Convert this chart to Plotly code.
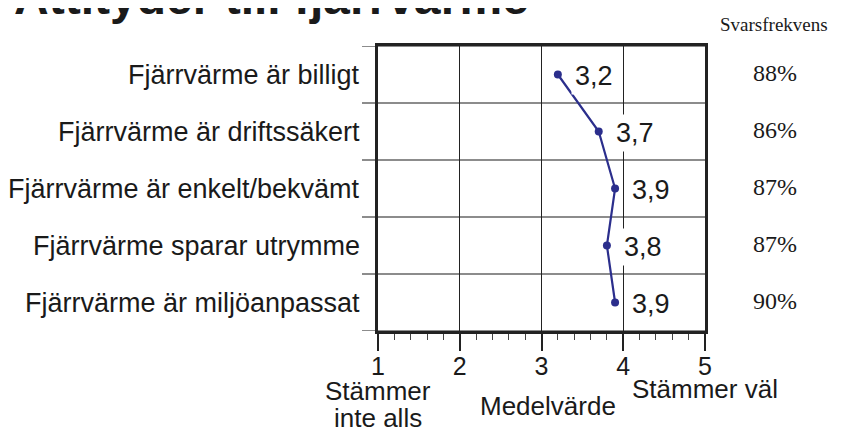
import plotly.graph_objects as go

categories = [
    "Fjärrvärme är billigt",
    "Fjärrvärme är driftssäkert",
    "Fjärrvärme är enkelt/bekvämt",
    "Fjärrvärme sparar utrymme",
    "Fjärrvärme är miljöanpassat",
]
mean_values = [3.2, 3.7, 3.9, 3.8, 3.9]
value_labels = ["3,2", "3,7", "3,9", "3,8", "3,9"]
response_rates = ["88%", "86%", "87%", "87%", "90%"]
x_tick_values = [1, 2, 3, 4, 5]
x_tick_labels = ["1", "2", "3", "4", "5"]

title = "Attityder till fjärrvärme"
rate_header = "Svarsfrekvens"

SANS = "Liberation Sans, Arial, Helvetica, sans-serif"
SERIF = "Liberation Serif, Times New Roman, serif"
LINE = "#2b2e8c"
TXT = "#1a1a1a"

# page body has an 8px margin: size the figure so it fits the 841x434 window
W, H = 833, 426
L, T, PW, PH = 370, 38, 327, 285

rows = list(range(len(categories)))

fig = go.Figure()
fig.add_trace(go.Scatter(
    x=mean_values, y=rows, mode="lines+markers",
    line=dict(color=LINE, width=2.2),
    marker=dict(color=LINE, size=8),
    hoverinfo="skip", showlegend=False,
))

# row boundary lines (extend left past the frame)
for b in [r - 0.5 for r in rows] + [rows[-1] + 0.5]:
    fig.add_shape(type="line", xref="paper", yref="y", x0=-16 / PW, x1=1,
                  y0=b, y1=b, line=dict(color="#666666", width=1.5), layer="below")

annotations = []
for r, v, lab in zip(rows, mean_values, value_labels):
    annotations.append(dict(
        x=v, y=r, xref="x", yref="y", text=lab, showarrow=False,
        xanchor="left", yanchor="middle", xshift=13, yshift=-1, bgcolor="white",
        borderpad=3, font=dict(family=SANS, size=27, color=TXT)))
for r, cat in zip(rows, categories):
    annotations.append(dict(
        x=-16 / PW, y=r, xref="paper", yref="y", text=cat, showarrow=False,
        xanchor="right", yanchor="middle", yshift=0,
        font=dict(family=SANS, size=27, color=TXT)))
for r, pct in zip(rows, response_rates):
    annotations.append(dict(
        x=(775 - 378) / PW, y=r, xref="paper", yref="y", text=pct, showarrow=False,
        xanchor="center", yanchor="middle", yshift=2,
        font=dict(family=SERIF, size=24, color=TXT)))
annotations += [
    dict(x=(830 - 378) / PW, y=1.0, xref="paper", yref="paper", text=rate_header,
         showarrow=False, xanchor="right", yanchor="bottom", yshift=9,
         font=dict(family=SERIF, size=19, color=TXT)),
    dict(x=(12 - 378) / PW, y=1.0, xref="paper", yref="paper", text="<b>" + title + "</b>",
         showarrow=False, xanchor="left", yanchor="bottom", yshift=20,
         font=dict(family=SANS, size=48, color=TXT)),
    dict(x=1, y=0, xref="x", yref="paper", text="Stämmer",
         showarrow=False, xanchor="center", yanchor="top", yshift=-43,
         font=dict(family=SANS, size=26, color=TXT)),
    dict(x=1, y=0, xref="x", yref="paper", text="inte alls",
         showarrow=False, xanchor="center", yanchor="top", yshift=-70,
         font=dict(family=SANS, size=26, color=TXT)),
    dict(x=3.08, y=0, xref="x", yref="paper", text="Medelvärde",
         showarrow=False, xanchor="center", yanchor="top", yshift=-58,
         font=dict(family=SANS, size=26, color=TXT)),
    dict(x=5, y=0, xref="x", yref="paper", text="Stämmer väl",
         showarrow=False, xanchor="center", yanchor="top", yshift=-41,
         font=dict(family=SANS, size=26, color=TXT)),
]

fig.update_layout(
    width=W, height=H,
    margin=dict(l=L, r=W - L - PW, t=T, b=H - T - PH, pad=0),
    paper_bgcolor="white", plot_bgcolor="white",
    annotations=annotations,
    xaxis=dict(
        range=[1, 5], tickvals=x_tick_values, ticktext=x_tick_labels,
        ticks="outside", ticklen=17, tickwidth=1.5, tickcolor="#222",
        ticklabelstandoff=-6,
        tickfont=dict(family=SANS, size=25, color=TXT),
        showgrid=True, gridcolor="#222", gridwidth=1,
        showline=True, linecolor="#222", linewidth=3, mirror=True,
        zeroline=False,
        minor=dict(dtick=0.2, tick0=1, ticks="outside", ticklen=6,
                   tickwidth=1, tickcolor="#444", showgrid=False),
    ),
    yaxis=dict(
        range=[len(categories) - 0.5, -0.5], showticklabels=False,
        showgrid=False, zeroline=False,
        showline=True, linecolor="#222", linewidth=3, mirror=True,
    ),
)

fig.write_html("out.html")
